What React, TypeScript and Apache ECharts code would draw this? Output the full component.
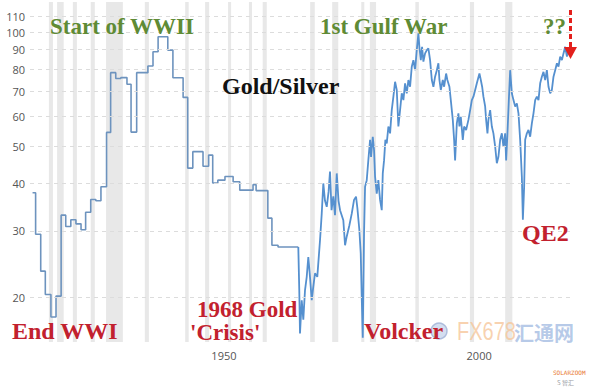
import React, { useEffect, useRef } from "react";
import * as echarts from "echarts";

// Y axis tick labels (log scale) and X axis labels
const Y_TICKS = [20, 30, 40, 50, 60, 70, 80, 90, 100, 110];
const X_LABELS = [1950, 2000];

// Early annual (step) part of the Gold/Silver ratio
const STEP_YEARS = [1912.5, 1913.1, 1914.1, 1915.0, 1916.1, 1917.1, 1918.1, 1919.0, 1920.0, 1921.0, 1922.0, 1922.9, 1923.9, 1924.9, 1925.9, 1927.0, 1927.8, 1928.8, 1929.8, 1931.0, 1931.8, 1932.9, 1935.1, 1936.1, 1937.1, 1939.0, 1940.0, 1942.0, 1942.9, 1943.9, 1945.9, 1947.0, 1947.8, 1948.8, 1950.2, 1951.8, 1953.1, 1955.7, 1956.3, 1958.6, 1959.4, 1960.6, 1964.57];
const STEP_VALUES = [37.8, 29.4, 23.5, 20.4, 17.8, 20.2, 33.0, 30.8, 32.1, 31.3, 30.2, 33.6, 36.3, 36.0, 39.2, 54.5, 78.3, 75.6, 76.0, 73.0, 54.6, 78.3, 81.5, 88.9, 97.4, 89.8, 75.9, 67.4, 43.9, 48.5, 44.4, 47.5, 40.1, 40.8, 41.7, 40.4, 38.4, 39.7, 38.3, 32.4, 27.5, 27.2, 27.2];

// Later monthly-ish part
const LATE_YEARS = [1964.57, 1964.76, 1964.9, 1965.24, 1965.55, 1965.88, 1966.22, 1966.53, 1966.86, 1967.2, 1967.51, 1967.84, 1968.29, 1968.82, 1969.16, 1969.47, 1969.8, 1970.14, 1970.5, 1970.78, 1971.08, 1971.43, 1971.76, 1972.1, 1972.45, 1972.75, 1973.39, 1973.73, 1974.06, 1974.57, 1975.04, 1975.49, 1975.88, 1976.14, 1976.53, 1976.8, 1977.0, 1977.2, 1977.45, 1977.65, 1977.98, 1978.29, 1978.63, 1978.82, 1979.16, 1979.41, 1979.61, 1979.94, 1980.25, 1980.59, 1980.92, 1981.12, 1981.37, 1981.63, 1981.9, 1982.22, 1982.55, 1982.88, 1983.2, 1983.53, 1983.86, 1984.18, 1984.51, 1984.84, 1985.16, 1985.49, 1985.82, 1986.14, 1986.47, 1986.8, 1987.12, 1987.45, 1987.78, 1988.1, 1988.29, 1988.57, 1988.82, 1989.08, 1989.41, 1989.75, 1990.06, 1990.39, 1990.73, 1991.04, 1991.37, 1991.71, 1992.02, 1992.22, 1992.49, 1992.88, 1993.14, 1993.53, 1993.78, 1994.18, 1994.45, 1994.84, 1995.1, 1995.29, 1995.63, 1995.94, 1996.14, 1996.41, 1996.8, 1997.06, 1997.45, 1997.9, 1998.24, 1998.57, 1998.88, 1999.22, 1999.55, 2000.06, 2000.33, 2000.59, 2000.84, 2001.18, 2001.37, 2001.63, 2001.82, 2002.16, 2002.49, 2002.8, 2003.14, 2003.47, 2003.78, 2004.12, 2004.45, 2004.76, 2005.1, 2005.29, 2005.55, 2005.82, 2006.08, 2006.41, 2006.73, 2007.06, 2007.39, 2007.71, 2008.04, 2008.37, 2008.57, 2008.82, 2009.02, 2009.35, 2009.67, 2010.0, 2010.33, 2010.65, 2010.98, 2011.31, 2011.63, 2011.96, 2012.29, 2012.61, 2012.94, 2013.27, 2013.59, 2013.92, 2014.25, 2014.57, 2014.9, 2015.24, 2015.55, 2015.88, 2016.22, 2016.53, 2016.86, 2017.2, 2017.39];
const LATE_VALUES = [27.2, 20.9, 16.1, 19.7, 17.5, 20.9, 22.7, 25.6, 22.7, 19.7, 21.4, 23.2, 22.7, 28.3, 33.3, 40.0, 36.0, 34.7, 38.0, 43.0, 34.0, 37.0, 33.0, 42.5, 36.0, 34.0, 32.0, 27.5, 29.0, 31.0, 33.3, 36.2, 36.9, 34.5, 30.2, 26.2, 20.0, 15.7, 29.5, 39.2, 40.8, 46.0, 52.1, 47.0, 53.1, 49.0, 41.7, 37.6, 40.8, 36.2, 34.0, 42.5, 46.0, 52.1, 51.0, 56.5, 54.2, 62.4, 67.7, 74.1, 70.5, 56.5, 62.4, 69.1, 66.3, 73.4, 69.1, 74.9, 71.9, 81.2, 84.5, 79.5, 89.8, 99.4, 91.6, 84.5, 91.6, 83.7, 88.0, 89.8, 90.8, 84.5, 74.9, 71.9, 76.4, 79.5, 82.9, 74.9, 70.5, 74.9, 71.9, 77.9, 74.9, 71.9, 66.3, 58.8, 52.1, 46.0, 57.6, 61.2, 56.5, 59.9, 52.1, 56.5, 55.3, 58.8, 62.4, 66.3, 67.7, 70.5, 73.4, 77.9, 74.9, 71.9, 67.7, 63.8, 58.8, 54.2, 58.8, 62.4, 56.5, 54.2, 50.0, 45.2, 47.0, 52.1, 54.2, 50.0, 54.2, 46.0, 54.2, 66.3, 79.5, 69.1, 66.3, 63.8, 65.0, 61.2, 52.1, 41.7, 32.1, 39.2, 52.1, 54.2, 55.3, 53.1, 57.6, 61.2, 66.3, 67.7, 66.3, 73.4, 76.4, 78.7, 74.9, 79.5, 71.9, 69.1, 70.5, 76.4, 79.5, 82.9, 81.2, 86.3, 84.5, 88.0, 91.6, 86.3, 89.8];

// Shaded recession periods (start, end)
const BAND_STARTS = [1915.7, 1917.3, 1920.4, 1923.9, 1926.9, 1934.5, 1942.4, 1946.3, 1950.8, 1954.9, 1957.6, 1966.9, 1971.2, 1976.9, 1978.6, 1987.5, 1998.2, 2005.1];
const BAND_ENDS = [1916.5, 1918.6, 1921.2, 1924.7, 1930.2, 1935.3, 1943.1, 1947.1, 1951.4, 1955.5, 1958.4, 1967.8, 1972.4, 1977.5, 1979.8, 1988.2, 1999.0, 2006.5];

export default function App() {
  const ref = useRef<HTMLDivElement>(null);

  useEffect(() => {
    if (!ref.current) return;
    const chart = echarts.init(ref.current, undefined, { renderer: "svg" });

    const stepData = STEP_YEARS.map((y, i) => [y, STEP_VALUES[i]]);
    const lateData = LATE_YEARS.map((y, i) => [y, LATE_VALUES[i]]);
    const bands = BAND_STARTS.map((s, i) => [{ xAxis: s }, { xAxis: BAND_ENDS[i] }]);

    const serif = '"Liberation Serif", "Times New Roman", serif';
    const green = "#5f8b35";
    const red = "#c2212e";

    chart.setOption({
      animation: false,
      backgroundColor: "#ffffff",
      grid: { left: 30, right: 29, top: 2, bottom: 48 },
      xAxis: {
        type: "value",
        min: 1912,
        max: 2018,
        axisLine: { show: false },
        axisTick: { show: false },
        splitLine: { show: false },
        axisLabel: {
          customValues: X_LABELS,
          formatter: (v: number) => String(v),
          color: "#555",
          fontSize: 11,
          margin: 8,
          fontFamily: '"Open Sans", "Liberation Sans", sans-serif',
        },
      },
      yAxis: {
        type: "log",
        logBase: 10,
        min: 15.29,
        max: 120.2,
        axisLine: { show: false },
        axisTick: { show: false },
        splitLine: { show: false },
        axisLabel: { show: false },
      },
      series: [
        {
          type: "line",
          name: "bands",
          data: [[1912, 50]],
          symbol: "none",
          lineStyle: { opacity: 0 },
          z: 1,
          silent: true,
          markArea: {
            silent: true,
            itemStyle: { color: "rgba(200,200,200,0.42)" },
            data: bands,
          },
          markLine: {
            silent: true,
            symbol: ["none", "none"],
            lineStyle: { color: "#dcdcdc", type: [4, 4], width: 1 },
            label: {
              position: "start",
              distance: 5,
              color: "#555",
              fontSize: 11,
              fontFamily: '"Open Sans", "Liberation Sans", sans-serif',
              formatter: (p: any) => String(p.value),
            },
            data: Y_TICKS.map((v) => ({ yAxis: v })),
          },
        },
        {
          type: "line",
          name: "Gold/Silver (early)",
          data: stepData,
          step: "end",
          symbol: "none",
          lineStyle: { color: "#6d93be", width: 1.6 },
          z: 3,
        },
        {
          type: "line",
          name: "Gold/Silver",
          data: lateData,
          symbol: "none",
          lineStyle: { color: "#5590cf", width: 1.8 },
          z: 3,
        },
      ],
      graphic: [
        { type: "text", x: 50, y: 26, z: 10, style: { text: "Start of WWII", fill: green, fontSize: 23, fontWeight: "bold", fontFamily: serif, verticalAlign: "middle" } },
        { type: "text", x: 320, y: 26, z: 10, style: { text: "1st Gulf War", fill: green, fontSize: 23, fontWeight: "bold", fontFamily: serif, verticalAlign: "middle" } },
        { type: "text", x: 543, y: 26, z: 10, style: { text: "??", fill: green, fontSize: 23, fontWeight: "bold", fontFamily: serif, verticalAlign: "middle" } },
        { type: "text", x: 222, y: 86, z: 10, style: { text: "Gold/Silver", fill: "#111", fontSize: 24, fontWeight: "bold", fontFamily: serif, verticalAlign: "middle" } },
        { type: "text", x: 12, y: 331, z: 10, style: { text: "End WWI", fill: red, fontSize: 24, fontWeight: "bold", fontFamily: serif, verticalAlign: "middle" } },
        { type: "text", x: 197, y: 309, z: 10, style: { text: "1968 Gold", fill: red, fontSize: 23, fontWeight: "bold", fontFamily: serif, verticalAlign: "middle" } },
        { type: "text", x: 190, y: 332, z: 10, style: { text: "'Crisis'", fill: red, fontSize: 23, fontWeight: "bold", fontFamily: serif, verticalAlign: "middle" } },
        { type: "text", x: 364, y: 331, z: 10, style: { text: "Volcker", fill: red, fontSize: 24, fontWeight: "bold", fontFamily: serif, verticalAlign: "middle" } },
        { type: "text", x: 522, y: 233, z: 10, style: { text: "QE2", fill: red, fontSize: 24, fontWeight: "bold", fontFamily: serif, verticalAlign: "middle" } },
        { type: "line", z: 11, shape: { x1: 570.5, y1: 10, x2: 570.5, y2: 48 }, style: { stroke: "#e3201c", lineWidth: 3, lineDash: [5, 3] } },
        { type: "polygon", z: 11, shape: { points: [[564, 47], [577, 47], [570.5, 59]] }, style: { fill: "#e3201c" } },
        // watermark
        { type: "circle", z: 9, shape: { cx: 439, cy: 331, r: 8 }, style: { fill: "rgba(170,190,225,0.5)", stroke: "rgba(150,170,210,0.7)", lineWidth: 1.5 } },
        { type: "text", x: 457, y: 332, z: 9, scaleX: 0.8, style: { text: "FX678", fill: "rgba(246,196,150,0.75)", fontSize: 25, fontFamily: '"Liberation Sans", sans-serif', verticalAlign: "middle" } },
        { type: "text", x: 514, y: 332, z: 9, style: { text: "汇通网", fill: "rgba(160,185,225,0.75)", fontSize: 20, fontFamily: '"Noto Sans CJK SC", sans-serif', fontWeight: "bold", verticalAlign: "middle" } },
        { type: "text", x: 553, y: 372, z: 9, style: { text: "SOLARZOOM", fill: "#e8772e", fontSize: 6, fontFamily: '"DejaVu Sans Mono", monospace', verticalAlign: "middle" } },
        { type: "text", x: 557, y: 382, z: 9, style: { text: "S 智汇", fill: "#9aa0a6", fontSize: 6, fontFamily: '"Noto Sans CJK SC", sans-serif', verticalAlign: "middle" } },
      ],
    });

    return () => chart.dispose();
  }, []);

  return (
    <div
      ref={ref}
      style={{ position: "fixed", left: 0, top: 0, width: 600, height: 390, background: "#fff" }}
    />
  );
}
